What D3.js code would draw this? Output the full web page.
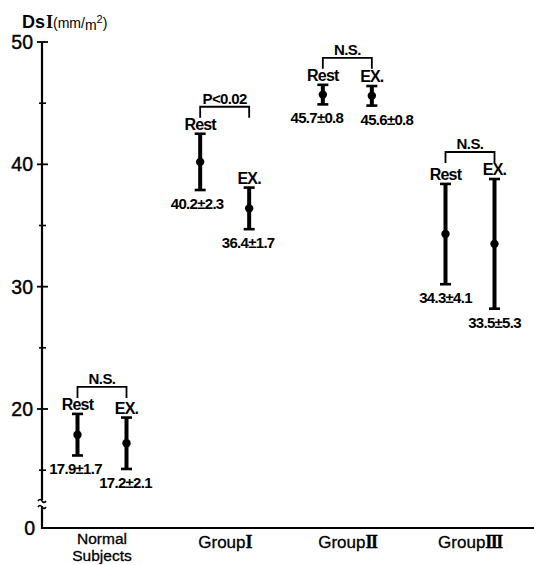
<!DOCTYPE html>
<html>
<head>
<meta charset="utf-8">
<script src="https://d3js.org/d3.v7.min.js"></script>
<style>
  body { margin: 0; background: #fff; }
  text { font-family: "Liberation Sans", Arial, sans-serif; fill: #000; font-weight: bold; }
  .rn { font-family: "Liberation Serif", "DejaVu Serif", serif; }
</style>
</head>
<body>
<svg width="534" height="565"></svg>
<script>
// data
var groups = ["Normal", "Group1", "Group2", "Group3"];
var groupNames = ["Normal", "Group", "Group", "Group"];
var groupNums = ["", "I", "II", "III"];
var restMean = [17.9, 40.2, 45.7, 34.3];
var restSD = [1.7, 2.3, 0.8, 4.1];
var exMean = [17.2, 36.4, 45.6, 33.5];
var exSD = [2.1, 1.7, 0.8, 5.3];
var compare = ["N.S.", "P<0.02", "N.S.", "N.S."];
var majorTicks = [0, 20, 30, 40, 50];
var minorTicks = [15, 25, 35, 45];

// small nudges so the group II value labels do not collide
var labelShift = [-2, -1, -3, -1, -6, 15, 0, 0];

var svg = d3.select("svg");
var axisX = 42, axisY = 528;

// broken axis: 0..14 squeezed at the bottom
var y = d3.scaleLinear()
  .domain([0, 14, 50])
  .range([axisY, 482.4, 42]);
var x = d3.scalePoint()
  .domain(groups)
  .range([102, 470]);
var off = 24.5;

// axes
svg.append("line")
  .attr("x1", axisX).attr("x2", axisX)
  .attr("y1", y(50)).attr("y2", axisY + 1)
  .attr("stroke", "#000").attr("stroke-width", 2.2);
svg.append("line")
  .attr("x1", axisX - 1).attr("x2", 534)
  .attr("y1", axisY).attr("y2", axisY)
  .attr("stroke", "#000").attr("stroke-width", 2);

// axis break marks
var gBreak = svg.append("g");
gBreak.append("rect")
  .attr("x", axisX - 2).attr("y", 500).attr("width", 4).attr("height", 6)
  .attr("fill", "#fff");
[500, 506].forEach(function(by) {
  gBreak.append("path")
    .attr("d", "M" + (axisX - 4) + "," + (by + 1) + " q2,-3 4,0 q2,3 4,0")
    .attr("fill", "none").attr("stroke", "#000").attr("stroke-width", 1.6);
});

svg.selectAll(".major").data(majorTicks.filter(function(d) { return d > 0; }))
  .enter().append("line")
  .attr("x1", axisX - 5).attr("x2", axisX + 6)
  .attr("y1", function(d) { return y(d); }).attr("y2", function(d) { return y(d); })
  .attr("stroke", "#000").attr("stroke-width", 1.8);
svg.selectAll(".minor").data(minorTicks)
  .enter().append("line")
  .attr("x1", axisX - 3).attr("x2", axisX + 4)
  .attr("y1", function(d) { return y(d); }).attr("y2", function(d) { return y(d); })
  .attr("stroke", "#000").attr("stroke-width", 1.6);
svg.selectAll(".tlab").data(majorTicks)
  .enter().append("text")
  .attr("x", function(d) { return d == 0 ? axisX - 7 : axisX - 9; })
  .attr("y", function(d) { return y(d) + 7; })
  .attr("text-anchor", "end")
  .attr("font-size", 19.5)
  .style("font-weight", "normal")
  .attr("stroke", "#000").attr("stroke-width", 0.4)
  .text(function(d) { return d; });

// y title
var title = svg.append("text").attr("x", 22).attr("y", 28);
title.append("tspan").attr("font-size", 18).text("Ds");
title.append("tspan").attr("class", "rn").attr("font-size", 18).attr("dx", 1).text("I");
title.append("tspan").attr("font-size", 14).style("font-weight", "normal").text("(mm/");
title.append("tspan").attr("font-size", 14).style("font-weight", "normal").attr("dy", 2).text("m");
title.append("tspan").attr("font-size", 11).style("font-weight", "normal").attr("dy", -7).text("2");
title.append("tspan").attr("font-size", 14).style("font-weight", "normal").attr("dy", 5).text(")");

// group labels
var glab = svg.selectAll(".glab").data(groups)
  .enter().append("text")
  .attr("x", function(d) { return x(d); })
  .attr("y", function(d, i) { return i == 0 ? 544 : 548; })
  .attr("text-anchor", "middle")
  .attr("font-size", function(d, i) { return i == 0 ? 15.5 : 17; })
  .style("font-weight", "normal")
  .attr("stroke", "#000").attr("stroke-width", 0.3);
glab.append("tspan").text(function(d, i) { return groupNames[i]; });
glab.append("tspan").attr("class", "rn").attr("font-size", 18).style("font-weight", "bold")
  .attr("letter-spacing", -1.5)
  .text(function(d, i) { return groupNums[i]; });
svg.append("text")
  .attr("x", x("Normal")).attr("y", 560.5)
  .attr("text-anchor", "middle").attr("font-size", 15.5)
  .style("font-weight", "normal")
  .attr("stroke", "#000").attr("stroke-width", 0.3)
  .text("Subjects");

// build points
var pts = [];
groups.forEach(function(g, i) {
  pts.push({g: g, kind: "Rest", cx: x(g) - off, m: restMean[i], sd: restSD[i]});
  pts.push({g: g, kind: "EX.", cx: x(g) + off, m: exMean[i], sd: exSD[i]});
});

var gBars = svg.append("g");
var bar = gBars.selectAll("g").data(pts).enter().append("g");
bar.append("line")
  .attr("x1", function(d) { return d.cx; }).attr("x2", function(d) { return d.cx; })
  .attr("y1", function(d) { return y(d.m + d.sd); })
  .attr("y2", function(d) { return y(d.m - d.sd); })
  .attr("stroke", "#000").attr("stroke-width", 4);
bar.append("line")
  .attr("x1", function(d) { return d.cx - 5.5; }).attr("x2", function(d) { return d.cx + 5.5; })
  .attr("y1", function(d) { return y(d.m + d.sd); })
  .attr("y2", function(d) { return y(d.m + d.sd); })
  .attr("stroke", "#000").attr("stroke-width", 2.6);
bar.append("line")
  .attr("x1", function(d) { return d.cx - 5.5; }).attr("x2", function(d) { return d.cx + 5.5; })
  .attr("y1", function(d) { return y(d.m - d.sd); })
  .attr("y2", function(d) { return y(d.m - d.sd); })
  .attr("stroke", "#000").attr("stroke-width", 2.6);
bar.append("circle")
  .attr("cx", function(d) { return d.cx; })
  .attr("cy", function(d) { return y(d.m); })
  .attr("r", 4.2).attr("fill", "#000");
// Rest / EX. labels
bar.append("text")
  .attr("x", function(d) { return d.cx; })
  .attr("y", function(d) { return y(d.m + d.sd) - 4; })
  .attr("text-anchor", "middle")
  .attr("font-size", 16)
  .attr("letter-spacing", -0.8)
  .text(function(d) { return d.kind; });
// value labels
bar.append("text")
  .attr("x", function(d, i) { return d.cx + labelShift[i]; })
  .attr("y", function(d) { return y(d.m - d.sd) + 19; })
  .attr("text-anchor", "middle")
  .attr("font-size", 15)
  .attr("letter-spacing", -0.7)
  .text(function(d) { return d.m.toFixed(1) + "±" + d.sd.toFixed(1); });

// comparison brackets
var gCmp = svg.append("g");
groups.forEach(function(g, i) {
  var top = Math.min(y(restMean[i] + restSD[i]), y(exMean[i] + exSD[i]));
  var by = top - 27;
  var x0 = x(g) - off, x1 = x(g) + off;
  gCmp.append("path")
    .attr("d", "M" + x0 + "," + (by + 11) + "V" + by + "H" + x1 + "V" + (by + 11))
    .attr("fill", "none").attr("stroke", "#000").attr("stroke-width", 1.8);
  gCmp.append("text")
    .attr("x", x(g)).attr("y", by - 3)
    .attr("text-anchor", "middle")
    .attr("font-size", 15)
    .attr("letter-spacing", -0.6)
    .text(compare[i]);
});
</script>
</body>
</html>
